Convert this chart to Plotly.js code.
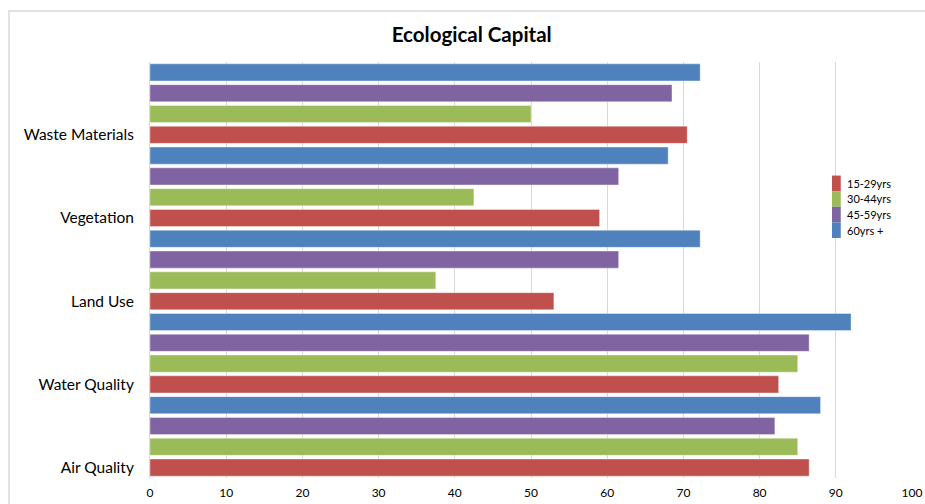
<!DOCTYPE html>
<html>
<head>
<meta charset="utf-8">
<script src="https://cdn.plot.ly/plotly-3.0.1.min.js"></script>
<style>
  html, body { margin: 0; padding: 0; background: #ffffff; }
  #chart { width: 925px; height: 504px; }
</style>
</head>
<body>
<div id="chart"></div>
<script>
// Survey topics, bottom to top
const categories = ["Air Quality", "Water Quality", "Land Use", "Vegetation", "Waste Materials"];

// Scores by age band
const age15to29 = [86.5, 82.5, 53, 59, 70.5];
const age30to44 = [85, 85, 37.5, 42.5, 50];
const age45to59 = [82, 86.5, 61.5, 61.5, 68.5];
const age60plus = [88, 92, 72.2, 68, 72.2];

const seriesNames = ["15-29yrs", "30-44yrs", "45-59yrs", "60yrs +"];
const seriesValues = [age15to29, age30to44, age45to59, age60plus];
const seriesColors = ["#C0504D", "#9BBB59", "#8064A2", "#4F81BD"];

const xTicks = [0, 10, 20, 30, 40, 50, 60, 70, 80, 90, 100];

// One slot per topic; each topic label sits beside its first (lowest) bar
const slots = categories.map((_, i) => i);
const labelOffset = -0.5 + 0.5 / seriesNames.length;

const traces = seriesNames.map((name, k) => ({
  type: "bar",
  orientation: "h",
  name: name,
  x: seriesValues[k],
  y: slots,
  marker: { color: seriesColors[k], line: { color: "rgba(255,255,255,0.6)", width: 0.6 } },
  hoverinfo: "x+name"
}));

const font = "Lato, 'Open Sans', 'Liberation Sans', sans-serif";

// Compact key: stacked colour swatches with labels, placed in paper space
const keyLeft = 0.895, keyTop = 0.727, keyStep = 0.0375, keySwatch = 0.0115;
const keyShapes = seriesNames.map((_, k) => ({
  type: "rect",
  xref: "paper", yref: "paper",
  x0: keyLeft, x1: keyLeft + keySwatch,
  y0: keyTop - (k + 1) * keyStep, y1: keyTop - k * keyStep,
  fillcolor: seriesColors[k],
  line: { width: 0 },
  layer: "above"
}));
const keyLabels = seriesNames.map((name, k) => ({
  xref: "paper", yref: "paper",
  x: keyLeft + keySwatch + 0.005, xanchor: "left",
  y: keyTop - (k + 0.5) * keyStep, yanchor: "middle",
  text: name,
  showarrow: false,
  font: { family: font, size: 11, color: "#000000" }
}));

const layout = {
  width: 925,
  height: 504,
  margin: { l: 150, r: 13, t: 62, b: 26 },
  paper_bgcolor: "#ffffff",
  plot_bgcolor: "#ffffff",
  font: { family: font, color: "#000000" },
  title: {
    text: "<b>Ecological Capital</b>",
    font: { family: font, size: 20.5, color: "#000000" },
    x: 0.51, xanchor: "center",
    y: 0.93, yanchor: "middle", yref: "container"
  },
  barmode: "group",
  bargap: 0,
  bargroupgap: 0.18,
  xaxis: {
    range: [0, 100],
    tickvals: xTicks,
    ticktext: xTicks.map(String),
    showgrid: true,
    gridcolor: "#d9d9d9",
    gridwidth: 1,
    zeroline: false,
    showline: false,
    ticks: "",
    ticklabelstandoff: 6,
    tickfont: { family: font, size: 12, color: "#000000" },
    fixedrange: true
  },
  yaxis: {
    range: [-0.5, categories.length - 0.5],
    tickvals: slots.map(s => s + labelOffset),
    ticktext: categories,
    showgrid: false,
    zeroline: false,
    showline: true,
    linecolor: "#d9d9d9",
    linewidth: 1,
    ticks: "",
    ticklabelstandoff: 12,
    tickfont: { family: font, size: 15.5, color: "#000000" },
    fixedrange: true
  },
  showlegend: false,
  annotations: keyLabels,
  shapes: [{
    type: "rect",
    xref: "paper", yref: "paper",
    x0: -0.185, x1: 1.03,
    y0: -0.09, y1: 1.1226,
    line: { color: "#e2e2e2", width: 2 },
    fillcolor: "rgba(0,0,0,0)",
    layer: "below"
  }].concat(keyShapes)
};

Plotly.newPlot("chart", traces, layout, { displayModeBar: false, staticPlot: true });
</script>
</body>
</html>
